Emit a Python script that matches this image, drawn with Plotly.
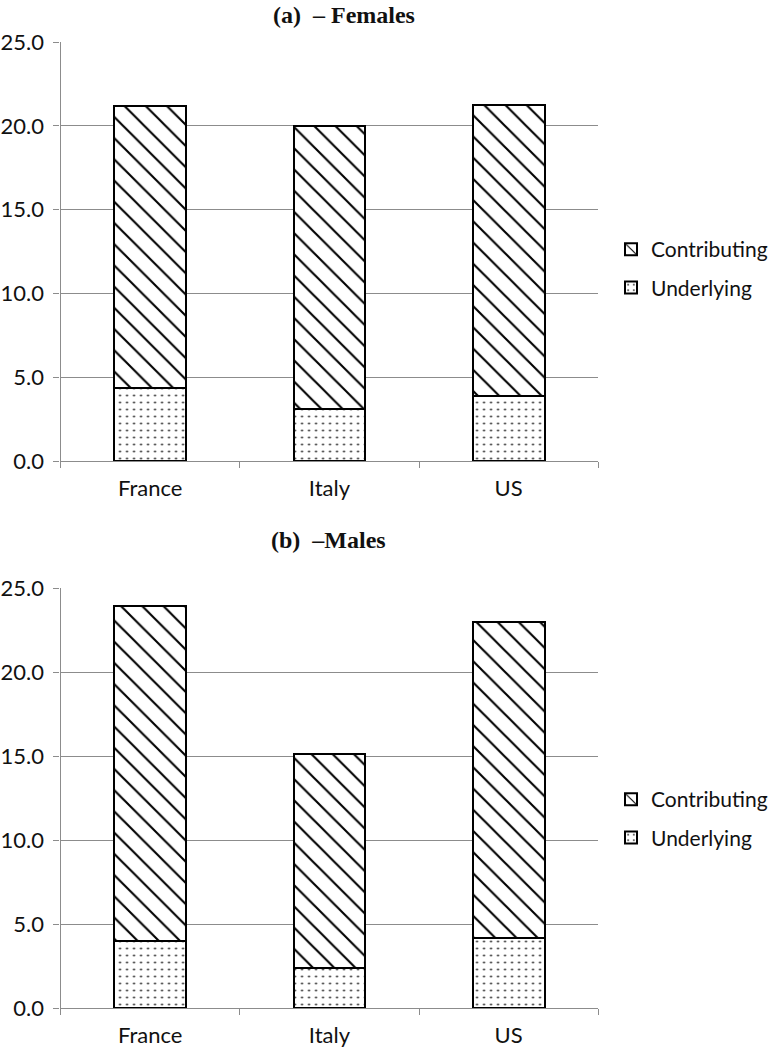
import plotly.graph_objects as go

countries = ["France", "Italy", "US"]
# Females
fem_underlying = [4.34, 3.08, 3.86]
fem_contributing = [16.83, 16.92, 17.39]
# Males
male_underlying = [3.98, 2.41, 4.16]
male_contributing = [19.92, 12.71, 18.84]

yticks = [0, 5, 10, 15, 20, 25]
titles = ["(a)\u00a0 \u2013 Females", "(b)\u00a0 \u2013Males"]

W, H = 773, 1050
SX = 773 / 767  # horizontal compensation observed in the rendered page
fig = go.Figure()

tick_font = dict(family="Lato, Open Sans, sans-serif", size=22, color="#111")
GRID = "#8c8c8c"

def add_panel(idx, und, con, legend_name):
    xa = "x" if idx == 0 else "x2"
    ya = "y" if idx == 0 else "y2"
    fig.add_trace(go.Bar(
        x=countries, y=und, name="Underlying", xaxis=xa, yaxis=ya,
        legend=legend_name, legendgroup="u%d" % idx, legendrank=2,
        marker=dict(color="white",
                    line=dict(color="black", width=2),
                    pattern=dict(shape=".", size=7, solidity=0.07,
                                 fgcolor="#222", bgcolor="white",
                                 fgopacity=1, fillmode="overlay")),
    ))
    fig.add_trace(go.Bar(
        x=countries, y=con, name="Contributing", xaxis=xa, yaxis=ya,
        legend=legend_name, legendgroup="c%d" % idx, legendrank=1,
        marker=dict(color="white",
                    line=dict(color="black", width=2),
                    pattern=dict(shape="\\", size=15, solidity=0.14,
                                 fgcolor="black", bgcolor="white",
                                 fgopacity=1, fillmode="overlay")),
    ))

add_panel(0, fem_underlying, fem_contributing, "legend")
add_panel(1, male_underlying, male_contributing, "legend2")

xdom = [61 * SX / W, 603 * SX / W]
top_dom = [1 - 461 / H, 1 - 42 / H]
bot_dom = [1 - 1008 / H, 1 - 588 / H]

axis_common_y = dict(range=[0, 25], tickvals=yticks, tickformat=".1f",
                     showgrid=True, gridcolor=GRID, gridwidth=1.3,
                     showline=True, linecolor=GRID, linewidth=1.3,
                     ticks="outside", ticklen=6, tickcolor=GRID, tickwidth=1.3,
                     tickfont=tick_font, ticklabelstandoff=5,
                     zeroline=False, automargin=False, fixedrange=True)
axis_common_x = dict(type="category", showline=True, linecolor=GRID, linewidth=1.3,
                     ticks="outside", tickson="boundaries", ticklen=6,
                     tickcolor=GRID, tickwidth=1.3, tickfont=tick_font,
                     ticklabelstandoff=7,
                     showgrid=False, automargin=False, fixedrange=True)

legend_common = dict(font=dict(family="Lato, Open Sans, sans-serif", size=21, color="#111"),
                     traceorder="grouped", tracegroupgap=8,
                     itemwidth=30, bgcolor="rgba(0,0,0,0)",
                     xanchor="left", yanchor="top", x=616 * SX / W)

fig.update_layout(
    width=W, height=H, autosize=False,
    margin=dict(l=0, r=0, t=0, b=0),
    paper_bgcolor="white", plot_bgcolor="white",
    barmode="stack", bargap=0.6,
    xaxis=dict(domain=xdom, anchor="y", **axis_common_x),
    yaxis=dict(domain=top_dom, anchor="x", **axis_common_y),
    xaxis2=dict(domain=xdom, anchor="y2", **axis_common_x),
    yaxis2=dict(domain=bot_dom, anchor="x2", **axis_common_y),
    legend=dict(y=1 - 229 / H, **legend_common),
    legend2=dict(y=1 - 779 / H, **legend_common),
    showlegend=True,
)

title_font = dict(family="Liberation Serif, Times New Roman, serif", size=24, color="#111")
fig.add_annotation(text="<b>%s</b>" % titles[0], xref="paper", yref="paper",
                   x=273 * SX / W, y=1.0, xanchor="left", yanchor="top",
                   showarrow=False, font=title_font)
fig.add_annotation(text="<b>%s</b>" % titles[1], xref="paper", yref="paper",
                   x=271 * SX / W, y=1 - 540 / H, xanchor="left", yanchor="middle",
                   showarrow=False, font=title_font)

fig.write_html(
    "out.html",
    config={"displayModeBar": False, "responsive": False},
    post_script=("document.documentElement.style.overflow='hidden';"
                 "document.body.style.margin='0px';"
                 "document.body.style.overflow='hidden';"),
)
